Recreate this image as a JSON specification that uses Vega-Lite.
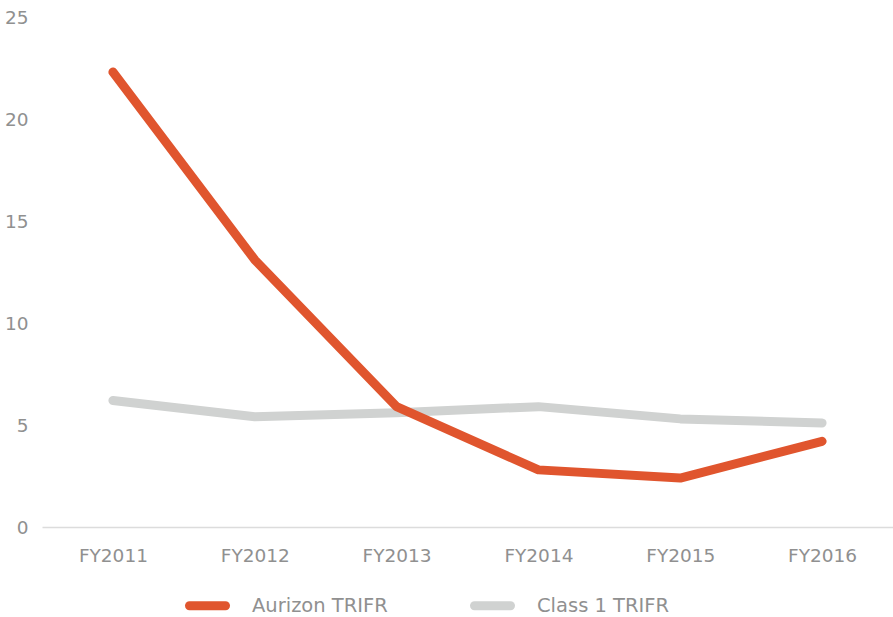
{
  "$schema": "https://vega.github.io/schema/vega-lite/v6.json",
  "autosize": "none",
  "width": 851,
  "height": 510,
  "padding": {"left": 42, "top": 17, "right": 0, "bottom": 90},
  "background": "white",
  "config": {
    "view": {"stroke": null},
    "font": "DejaVu Sans",
    "axis": {"labelFont": "DejaVu Sans", "labelColor": "#909090", "labelFontSize": 18.5, "title": null}
  },
  "data": {
    "values": [
      {"year": "FY2011", "series": "Aurizon TRIFR", "value": 22.3},
      {"year": "FY2012", "series": "Aurizon TRIFR", "value": 13.1},
      {"year": "FY2013", "series": "Aurizon TRIFR", "value": 5.9},
      {"year": "FY2014", "series": "Aurizon TRIFR", "value": 2.8},
      {"year": "FY2015", "series": "Aurizon TRIFR", "value": 2.4},
      {"year": "FY2016", "series": "Aurizon TRIFR", "value": 4.2},
      {"year": "FY2011", "series": "Class 1 TRIFR", "value": 6.2},
      {"year": "FY2012", "series": "Class 1 TRIFR", "value": 5.4},
      {"year": "FY2013", "series": "Class 1 TRIFR", "value": 5.6},
      {"year": "FY2014", "series": "Class 1 TRIFR", "value": 5.9},
      {"year": "FY2015", "series": "Class 1 TRIFR", "value": 5.3},
      {"year": "FY2016", "series": "Class 1 TRIFR", "value": 5.1}
    ]
  },
  "encoding": {
    "x": {
      "field": "year", "type": "ordinal",
      "scale": {"type": "point", "padding": 0.5},
      "axis": {"labelAngle": 0, "ticks": false, "domainColor": "#dcdcdc", "domainWidth": 1.5, "labelPadding": 19, "grid": false}
    },
    "y": {
      "field": "value", "type": "quantitative",
      "scale": {"domain": [0, 25], "nice": false},
      "axis": {"values": [0, 5, 10, 15, 20, 25], "domain": false, "ticks": false, "grid": false, "labelPadding": 14}
    },
    "color": {
      "field": "series", "type": "nominal",
      "scale": {"domain": ["Aurizon TRIFR", "Class 1 TRIFR"], "range": ["#e0552e", "#d0d2d1"]},
      "legend": {
        "title": null,
        "orient": "none",
        "legendX": 143,
        "legendY": 566,
        "direction": "horizontal",
        "symbolType": "stroke",
        "symbolSize": 1296,
        "symbolStrokeWidth": 9,
        "labelFontSize": 19.5,
        "labelColor": "#909090",
        "labelOffset": 22,
        "columnPadding": 68,
        "encode": {"symbols": {"update": {"strokeCap": {"value": "round"}}}}
      }
    }
  },
  "layer": [
    {
      "transform": [{"filter": "datum.series === 'Class 1 TRIFR'"}],
      "mark": {"type": "line", "strokeWidth": 9, "strokeCap": "round", "strokeJoin": "round"}
    },
    {
      "transform": [{"filter": "datum.series === 'Aurizon TRIFR'"}],
      "mark": {"type": "line", "strokeWidth": 9, "strokeCap": "round", "strokeJoin": "round"}
    }
  ]
}
